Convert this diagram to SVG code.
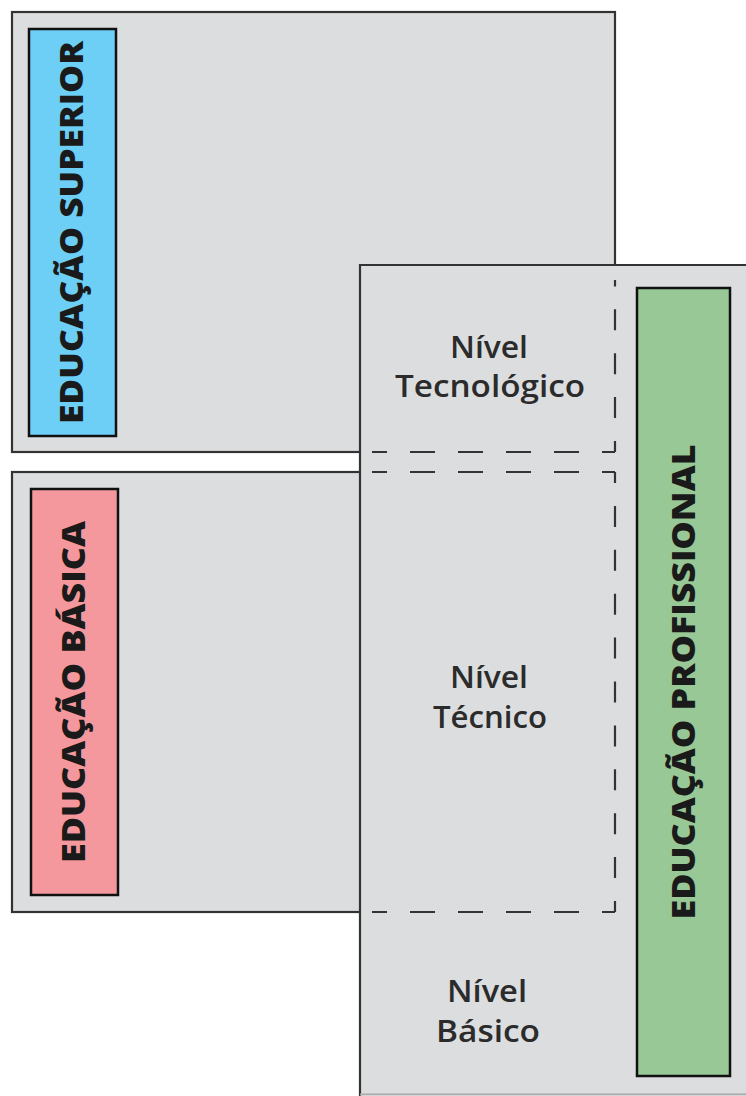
<svg xmlns="http://www.w3.org/2000/svg" width="746" height="1096" viewBox="0 0 746 1096">
<style>
.box{fill:#dcdddf;stroke:#333;stroke-width:2.2}
.lab{stroke:#111;stroke-width:2.5}
.vt{font-family:"Open Sans","Liberation Sans",sans-serif;font-weight:800;font-size:31px;fill:#1a1a1a;text-anchor:middle}
.lv{font-family:"Open Sans","Liberation Sans",sans-serif;font-weight:600;font-size:30px;fill:#2b2b2b;text-anchor:middle}
.dh{fill:none;stroke:#333;stroke-width:2.2;stroke-dasharray:25 23;stroke-dashoffset:12}
.dv{fill:none;stroke:#333;stroke-width:2.2;stroke-dasharray:21 22.9;stroke-dashoffset:10}
</style>
<rect width="746" height="1096" fill="#fff"/>
<g id="superior">
<rect class="box" x="12" y="12" width="603" height="440"/>
<rect class="lab" x="29" y="29" width="87" height="407" fill="#6dcff6"/>
<text class="vt" transform="translate(83,232.5) rotate(-90)" textLength="383" lengthAdjust="spacingAndGlyphs">EDUCAÇÃO SUPERIOR</text>
</g>
<g id="basica">
<rect class="box" x="12" y="472" width="603" height="440"/>
<rect class="lab" x="31" y="489" width="87" height="406" fill="#f4989d"/>
<text class="vt" transform="translate(85,692) rotate(-90)" textLength="342" lengthAdjust="spacingAndGlyphs">EDUCAÇÃO BÁSICA</text>
</g>
<g id="profissional">
<rect x="360" y="265" width="400" height="829" fill="#dcdddf"/>
<path d="M360,1096 V265 H746" fill="none" stroke="#333" stroke-width="2.2"/>
<line x1="360" y1="1094.5" x2="746" y2="1094.5" stroke="#aaa" stroke-width="2"/>
<rect class="lab" x="637" y="288" width="93" height="788" fill="#98c896"/>
<text class="vt" transform="translate(695,682) rotate(-90)" textLength="475" lengthAdjust="spacingAndGlyphs">EDUCAÇÃO PROFISSIONAL</text>
</g>
<g id="connectors">
<path class="dv" d="M615,452 V280"/>
<path class="dh" d="M615,452 H372"/>
<path class="dh" d="M615,472 H372"/>
<path class="dv" d="M615,472 V912"/>
<path class="dh" d="M615,912 H372"/>
</g>
<g id="tecnologico">
<text class="lv" x="489" y="358" textLength="78" lengthAdjust="spacingAndGlyphs">Nível</text>
<text class="lv" x="490" y="397" textLength="190" lengthAdjust="spacingAndGlyphs">Tecnológico</text>
</g>
<g id="tecnico">
<text class="lv" x="489" y="688" textLength="78" lengthAdjust="spacingAndGlyphs">Nível</text>
<text class="lv" x="490" y="728" textLength="114" lengthAdjust="spacingAndGlyphs">Técnico</text>
</g>
<g id="basico">
<text class="lv" x="487" y="1002" textLength="80" lengthAdjust="spacingAndGlyphs">Nível</text>
<text class="lv" x="488" y="1042" textLength="104" lengthAdjust="spacingAndGlyphs">Básico</text>
</g>
</svg>
